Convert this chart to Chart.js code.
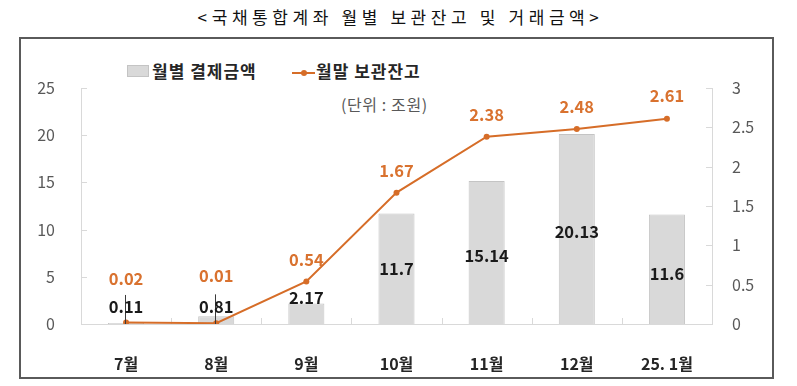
<!DOCTYPE html>
<html>
<head>
<meta charset="utf-8">
<script src="https://cdn.jsdelivr.net/npm/chart.js@4.4.1/dist/chart.umd.min.js"></script>
<style>
  body { margin: 0; background: #fff; font-family: "Noto Sans CJK KR", "Noto Sans", sans-serif; }
  #wrap { position: relative; width: 797px; height: 386px; overflow: hidden; }
  #title { position: absolute; left: 0; top: 5px; width: 797px; text-align: center; font-size: 17px; line-height: 24px; color: #111; letter-spacing: 4.6px; padding-left: 4px; box-sizing: border-box; }
  #frame { position: absolute; left: 19px; top: 37px; width: 755px; height: 342px; border: 2px solid #5a5a5a; box-sizing: border-box; }
  .leg { position: absolute; top: 60px; font-size: 17px; font-weight: bold; color: #262626; line-height: 22px; letter-spacing: 1px; }
  #unit { position: absolute; left: 341px; top: 93px; font-size: 16px; color: #595959; line-height: 22px; letter-spacing: 0.6px; }
  canvas { position: absolute; left: 0; top: 0; }
</style>
</head>
<body>
<div id="wrap">
  <div id="title">&lt;국채통합계좌 월별 보관잔고 및 거래금액&gt;</div>
  <div id="frame"></div>
  <div class="leg" style="left:127px;">
    <span style="display:inline-block;width:20px;height:10px;background:#d9d9d9;border:1px solid #c4c4c4;vertical-align:1px;margin-right:3px;"></span>월별 결제금액
  </div>
  <div class="leg" style="left:292px;">
    <span style="display:inline-block;position:relative;width:23px;height:10px;vertical-align:1px;margin-right:1px;">
      <span style="position:absolute;left:0;top:5px;width:23px;height:2px;background:#d66d28;"></span>
      <span style="position:absolute;left:9px;top:3px;width:6px;height:6px;border-radius:3px;background:#d66d28;"></span>
    </span>월말 보관잔고
  </div>
  <div id="unit">(단위 : 조원)</div>
  <canvas id="c" width="797" height="386"></canvas>
</div>
<script>
// data
const months = ['7월', '8월', '9월', '10월', '11월', '12월', '25. 1월'];
const settlement = [0.11, 0.81, 2.17, 11.7, 15.14, 20.13, 11.6];   // 월별 결제금액 (left axis)
const balance = [0.02, 0.01, 0.54, 1.67, 2.38, 2.48, 2.61];        // 월말 보관잔고 (right axis)
const leftTicks = [0, 5, 10, 15, 20, 25];
const rightTicks = [0, 0.5, 1, 1.5, 2, 2.5, 3];

const lineColor = '#d66d28';
const labelOrange = '#d9722f';
const axisGrey = '#d9d9d9';
const fontFam = '"Noto Sans CJK KR", "Noto Sans", sans-serif';

// label placement tweaks (pixels), like the hand-moved labels in the original
const lineLabelLift = [44, 47, 22, 22, 22, 22, 23];
const barLabelMode = ['top', 'top', 'top', 'mid', 'mid', 'mid', 'mid'];
const barLabelShift = [16, 10, 6, 0, 3, 3, 4];
const leaderLines = [true, true, false, false, false, false, false];

// inward tick marks on the axes
const tickMarks = {
    id: 'tickMarks',
    beforeDatasetsDraw(chart) {
        const ctx = chart.ctx;
        const y = chart.scales.y, y1 = chart.scales.y1, x = chart.scales.x;
        ctx.save();
        ctx.strokeStyle = axisGrey;
        ctx.lineWidth = 1;
        ctx.beginPath();
        y.ticks.forEach(t => {
            const py = Math.round(y.getPixelForValue(t.value)) + 0.5;
            ctx.moveTo(y.right, py); ctx.lineTo(y.right + 6, py);
        });
        y1.ticks.forEach(t => {
            const py = Math.round(y1.getPixelForValue(t.value)) + 0.5;
            ctx.moveTo(y1.left, py); ctx.lineTo(y1.left - 6, py);
        });
        for (let i = 0; i <= months.length; i++) {
            const px = Math.round(x.getPixelForValue(i - 0.5)) + 0.5;
            ctx.moveTo(px, x.top); ctx.lineTo(px, x.top - 6);
        }
        ctx.stroke();
        ctx.restore();
    }
};

// value labels
const valueLabels = {
    id: 'valueLabels',
    afterDatasetsDraw(chart) {
        const ctx = chart.ctx;
        const lineMeta = chart.getDatasetMeta(0);
        const barMeta = chart.getDatasetMeta(1);
        ctx.save();
        ctx.textAlign = 'center';
        ctx.textBaseline = 'middle';
        ctx.font = 'bold 16.5px ' + fontFam;

        barMeta.data.forEach((bar, i) => {
            let cy;
            if (barLabelMode[i] === 'top') cy = bar.y - barLabelShift[i];
            else cy = (bar.y + bar.base) / 2 + barLabelShift[i];
            if (leaderLines[i]) {
                ctx.strokeStyle = '#3a3a3a';
                ctx.lineWidth = 1;
                ctx.beginPath();
                ctx.moveTo(Math.round(bar.x) - 0.5, cy - 12);
                ctx.lineTo(Math.round(bar.x) - 0.5, bar.base);
                ctx.stroke();
            }
            ctx.fillStyle = '#1a1a1a';
            ctx.fillText(String(settlement[i]), bar.x, cy);
        });

        ctx.fillStyle = labelOrange;
        lineMeta.data.forEach((pt, i) => {
            ctx.fillText(balance[i].toFixed(2), pt.x, pt.y - lineLabelLift[i]);
        });
        ctx.restore();
    }
};

new Chart(document.getElementById('c'), {
    type: 'bar',
    data: {
        labels: months,
        datasets: [
            {
                type: 'line',
                label: '월말 보관잔고',
                data: balance,
                yAxisID: 'y1',
                order: 0,
                borderColor: lineColor,
                backgroundColor: lineColor,
                borderWidth: 2,
                pointRadius: 3,
                pointBorderWidth: 0,
                pointBackgroundColor: lineColor,
                tension: 0
            },
            {
                type: 'bar',
                label: '월별 결제금액',
                data: settlement,
                yAxisID: 'y',
                order: 1,
                backgroundColor: '#d9d9d9',
                borderColor: '#c4c4c4',
                borderWidth: 1,
                barPercentage: 0.4,
                categoryPercentage: 1.0
            }
        ]
    },
    options: {
        responsive: false,
        animation: false,
        layout: { padding: { left: 21, right: 24, top: 88, bottom: 12 } },
        plugins: {
            legend: { display: false },
            title: { display: false },
            tooltip: { enabled: false }
        },
        scales: {
            x: {
                grid: { display: false },
                border: { color: axisGrey, width: 1 },
                ticks: {
                    color: '#262626',
                    font: { family: fontFam, size: 16, weight: 'bold' },
                    padding: 22,
                    maxRotation: 0,
                    autoSkip: false
                },
                afterFit(s) { s.height = 50; }
            },
            y: {
                position: 'left',
                min: 0,
                max: 25,
                afterBuildTicks(s) { s.ticks = leftTicks.map(v => ({ value: v })); },
                grid: { display: false, drawTicks: false },
                border: { color: axisGrey, width: 1 },
                ticks: {
                    color: '#595959',
                    font: { family: fontFam, size: 16 },
                    padding: 26,
                    callback: v => String(v)
                },
                afterFit(s) { s.width = 60; }
            },
            y1: {
                position: 'right',
                min: 0,
                max: 3,
                afterBuildTicks(s) { s.ticks = rightTicks.map(v => ({ value: v })); },
                grid: { display: false, drawTicks: false },
                border: { color: axisGrey, width: 1 },
                ticks: {
                    color: '#595959',
                    font: { family: fontFam, size: 16 },
                    padding: 20,
                    callback: v => String(v)
                },
                afterFit(s) { s.width = 61; }
            }
        }
    },
    plugins: [tickMarks, valueLabels]
});
</script>
</body>
</html>
